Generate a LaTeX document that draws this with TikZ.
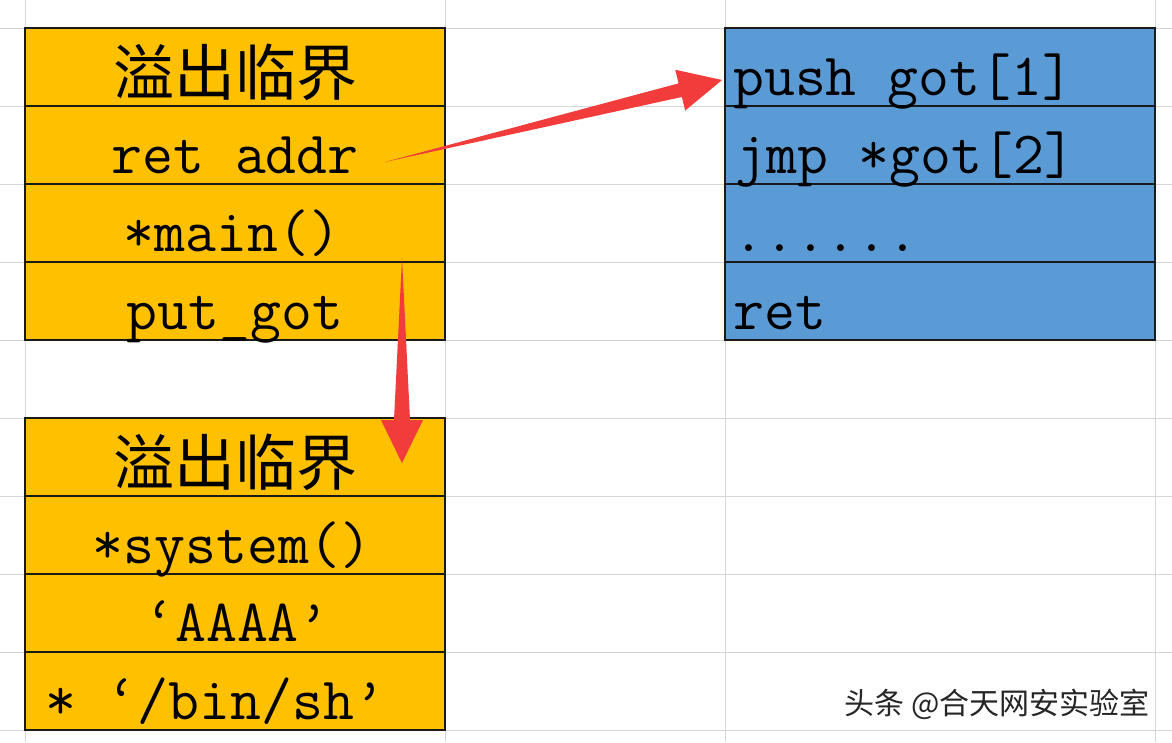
\documentclass[tikz,border=0pt]{standalone}
\usepackage{fontspec}
\newfontfamily\cjk{Noto Sans CJK SC}
\usetikzlibrary{calc,positioning}

\definecolor{cellorange}{HTML}{FFC000}
\definecolor{cellblue}{HTML}{5B9BD5}
\definecolor{arrowred}{HTML}{F23B3B}
\definecolor{gridgray}{HTML}{D6D6D6}
\definecolor{cellline}{HTML}{1A1A1A}

\tikzset{
  celltext/.style={font=\fontsize{60}{62}\selectfont\ttfamily, inner sep=0pt},
  cjktext/.style={font=\fontsize{61}{62}\selectfont\cjk, inner sep=0pt},
  orangecell/.style={fill=cellorange, draw=cellline, line width=2pt},
  bluecell/.style={fill=cellblue, draw=cellline, line width=2pt},
  gridline/.style={draw=gridgray, line width=1pt}
}

\begin{document}
\begin{tikzpicture}[x=1pt, y=-1pt]
\useasboundingbox (0,0) rectangle (1172,742);
\fill[white] (0,0) rectangle (1172,742);

% sheet grid
\foreach \y in {28,106,...,730} {
  \draw[gridline] (0,\y) -- (1172,\y);
}
\foreach \x in {25,445,725,1155} {
  \draw[gridline] (\x,0) -- (\x,742);
}

% cells
\foreach \y in {28,106,184,262} {
  \draw[orangecell] (25,\y) rectangle (445,{\y+78});
  \draw[bluecell] (725,\y) rectangle (1155,{\y+78});
}
\foreach \y in {418,496,574,652} {
  \draw[orangecell] (25,\y) rectangle (445,{\y+78});
}

% first stack
\node[cjktext, anchor=base] (l1) at (235,95) {溢出临界};
\node[celltext, anchor=base] (l2) at (235,173) {ret addr};
\node[celltext, anchor=base] (l3) at (232,251) {*main()};
\node[celltext, anchor=base] (l4) at (235,329) {put\_got};

% second stack
\node[cjktext, anchor=base] (m1) at (235,485) {溢出临界};
\node[celltext, anchor=base] (m2) at (232,563) {*system()};
\node[celltext, anchor=base] (m3) at (237,641) {‘AAAA’};
\node[celltext, anchor=base] (m4) at (215,719) {* ‘/bin/sh’};

% plt code
\node[celltext, anchor=base west] (r1) at (733,95) {push got[1]};
\node[celltext, anchor=base west] (r2) at (735,173) {jmp *got[2]};
\node[celltext, anchor=base west] (r3) at (733,251) {......};
\node[celltext, anchor=base west] (r4) at (733,329) {ret};

% arrows
\coordinate (ra) at (385,162);
\coordinate (pg) at (722,80);
\coordinate (hb) at ($(pg)!43pt!(ra)$);
\fill[arrowred] (ra) -- ($(hb)!7pt!90:(pg)$) -- ($(hb)!21pt!90:(pg)$) -- (pg)
  -- ($(hb)!21pt!-90:(pg)$) -- ($(hb)!7pt!-90:(pg)$) -- cycle;

\coordinate (mn) at (402,258);
\coordinate (sy) at (402,463);
\coordinate (hc) at ($(sy)!43pt!(mn)$);
\fill[arrowred] (mn) -- ($(hc)!8pt!90:(sy)$) -- ($(hc)!21pt!90:(sy)$) -- (sy)
  -- ($(hc)!21pt!-90:(sy)$) -- ($(hc)!8pt!-90:(sy)$) -- cycle;

% watermark
\node[font=\fontsize{30}{32}\selectfont\cjk, anchor=base east, inner sep=0pt,
  text=black!85] (wm) at (1150,714) {头条 @合天网安实验室};
\end{tikzpicture}
\end{document}
